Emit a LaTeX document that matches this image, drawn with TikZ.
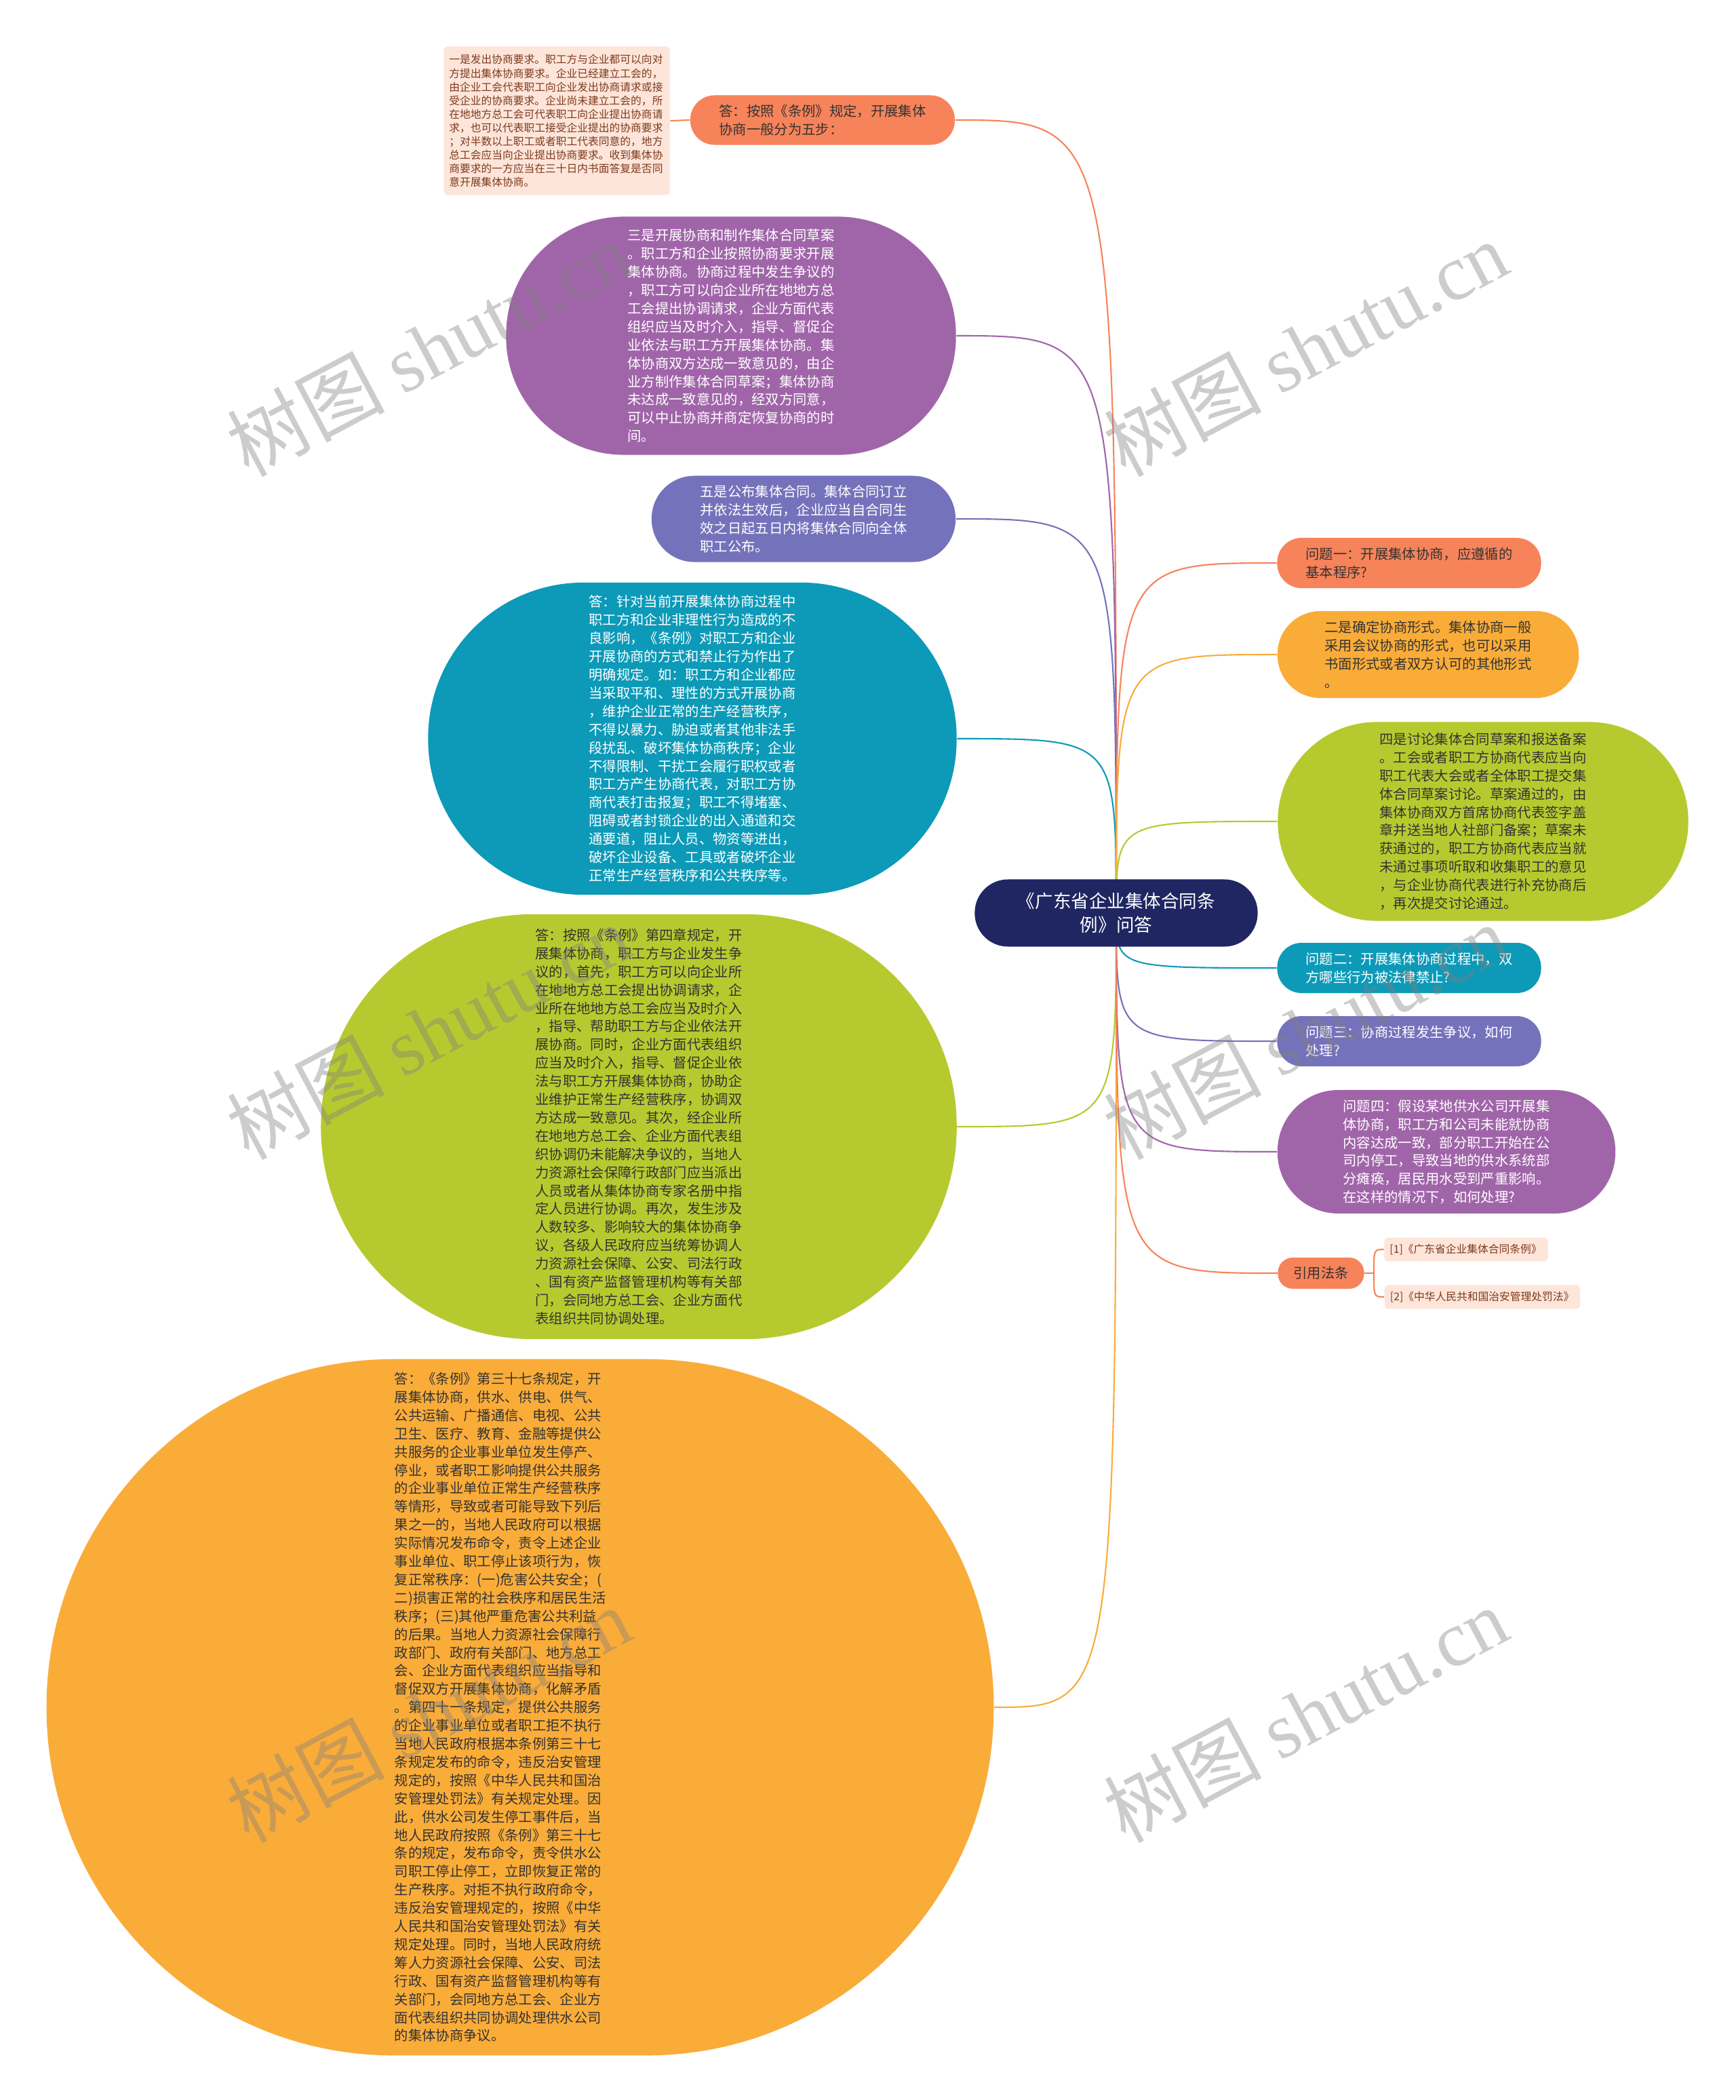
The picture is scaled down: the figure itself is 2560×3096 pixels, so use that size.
\documentclass[tikz,border=0pt]{standalone}
\usepackage{fontspec}
\setmainfont{Noto Sans CJK SC}
\newfontfamily\wmlatin{Liberation Serif}
\usetikzlibrary{backgrounds}

\definecolor{rootblue}{RGB}{31,38,98}
\definecolor{coral}{RGB}{247,131,90}
\definecolor{amber}{RGB}{250,172,57}
\definecolor{plum}{RGB}{160,101,169}
\definecolor{lavender}{RGB}{117,114,188}
\definecolor{seablue}{RGB}{12,154,184}
\definecolor{leaf}{RGB}{182,202,47}
\definecolor{notefill}{RGB}{253,229,218}
\definecolor{notetext}{RGB}{125,58,28}
\definecolor{darktext}{RGB}{51,51,51}

\newcommand{\bodyfont}{\fontsize{5.78pt}{7.65pt}\selectfont}
\newcommand{\notefont}{\fontsize{4.48pt}{5.69pt}\selectfont}
\newcommand{\rootfont}{\fontsize{7.55pt}{9.95pt}\selectfont}

\begin{document}
\begin{tikzpicture}[x=0.01cm, y=-0.01cm,
    bubble/.style={inner sep=0pt, align=left, font=\bodyfont},
    link/.style={line width=0.6pt},
    tag/.style={inner xsep=0.08cm, inner ysep=0pt, minimum height=0.35cm, rounded corners=0.06cm, fill=notefill, text=notetext, font=\notefont, align=left},
    wmark/.style={rotate=28, text=gray, opacity=0.4, font=\fontsize{33pt}{33pt}\selectfont}]
        \useasboundingbox (0,0) rectangle (2560,3096);

        % --- Root ---
        \node[bubble, fill=rootblue, text=white, font=\rootfont, align=center, minimum width=4.17cm, minimum height=0.99cm, rounded corners=0.49cm] (root) at (1646,1346) {《广东省企业集体合同条\\例》问答};
        % ---

        % --- Left side: answers and steps ---
        \node[tag, text width=3.17cm, minimum height=2.19cm] (note) at (821,178) {一是发出协商要求。职工方与企业都可以向对\\方提出集体协商要求。企业已经建立工会的，\\由企业工会代表职工向企业发出协商请求或接\\受企业的协商要求。企业尚未建立工会的，所\\在地地方总工会可代表职工向企业提出协商请\\求，也可以代表职工接受企业提出的协商要求\\；对半数以上职工或者职工代表同意的，地方\\总工会应当向企业提出协商要求。收到集体协\\商要求的一方应当在三十日内书面答复是否同\\意开展集体协商。};
        \node[bubble, fill=coral, text=darktext, minimum width=3.9cm, minimum height=0.73cm, rounded corners=0.36cm] (ans) at (1213,177) {答：按照《条例》规定，开展集体\\协商一般分为五步：};
        \node[bubble, fill=plum, text=white, minimum width=6.63cm, minimum height=3.51cm, rounded corners=1.74cm] (step3) at (1078,495) {三是开展协商和制作集体合同草案\\。职工方和企业按照协商要求开展\\集体协商。协商过程中发生争议的\\，职工方可以向企业所在地地方总\\工会提出协调请求，企业方面代表\\组织应当及时介入，指导、督促企\\业依法与职工方开展集体协商。集\\体协商双方达成一致意见的，由企\\业方制作集体合同草案；集体协商\\未达成一致意见的，经双方同意，\\可以中止协商并商定恢复协商的时\\间。};
        \node[bubble, fill=lavender, text=white, minimum width=4.48cm, minimum height=1.27cm, rounded corners=0.63cm] (step5) at (1185,765) {五是公布集体合同。集体合同订立\\并依法生效后，企业应当自合同生\\效之日起五日内将集体合同向全体\\职工公布。};
        \node[bubble, fill=seablue, text=white, minimum width=7.79cm, minimum height=4.6cm, rounded corners=2.29cm] (ans2) at (1021,1089) {答：针对当前开展集体协商过程中\\职工方和企业非理性行为造成的不\\良影响，《条例》对职工方和企业\\开展协商的方式和禁止行为作出了\\明确规定。如：职工方和企业都应\\当采取平和、理性的方式开展协商\\，维护企业正常的生产经营秩序，\\不得以暴力、胁迫或者其他非法手\\段扰乱、破坏集体协商秩序；企业\\不得限制、干扰工会履行职权或者\\职工方产生协商代表，对职工方协\\商代表打击报复；职工不得堵塞、\\阻碍或者封锁企业的出入通道和交\\通要道，阻止人员、物资等进出，\\破坏企业设备、工具或者破坏企业\\正常生产经营秩序和公共秩序等。};
        \node[bubble, fill=leaf, text=darktext, minimum width=9.37cm, minimum height=6.26cm, rounded corners=3.12cm] (ans3) at (942,1661) {答：按照《条例》第四章规定，开\\展集体协商，职工方与企业发生争\\议的，首先，职工方可以向企业所\\在地地方总工会提出协调请求，企\\业所在地地方总工会应当及时介入\\，指导、帮助职工方与企业依法开\\展协商。同时，企业方面代表组织\\应当及时介入，指导、督促企业依\\法与职工方开展集体协商，协助企\\业维护正常生产经营秩序，协调双\\方达成一致意见。其次，经企业所\\在地地方总工会、企业方面代表组\\织协调仍未能解决争议的，当地人\\力资源社会保障行政部门应当派出\\人员或者从集体协商专家名册中指\\定人员进行协调。再次，发生涉及\\人数较多、影响较大的集体协商争\\议，各级人民政府应当统筹协调人\\力资源社会保障、公安、司法行政\\、国有资产监督管理机构等有关部\\门，会同地方总工会、企业方面代\\表组织共同协调处理。};
        \node[bubble, fill=amber, text=darktext, text width=3.7cm, minimum width=13.96cm, minimum height=10.26cm, rounded corners=5.12cm] (ans4) at (767,2517) {答：《条例》第三十七条规定，开\\展集体协商，供水、供电、供气、\\公共运输、广播通信、电视、公共\\卫生、医疗、教育、金融等提供公\\共服务的企业事业单位发生停产、\\停业，或者职工影响提供公共服务\\的企业事业单位正常生产经营秩序\\等情形，导致或者可能导致下列后\\果之一的，当地人民政府可以根据\\实际情况发布命令，责令上述企业\\事业单位、职工停止该项行为，恢\\复正常秩序：(一)危害公共安全；(\\二)损害正常的社会秩序和居民生活\\秩序；(三)其他严重危害公共利益\\的后果。当地人力资源社会保障行\\政部门、政府有关部门、地方总工\\会、企业方面代表组织应当指导和\\督促双方开展集体协商，化解矛盾\\。第四十一条规定，提供公共服务\\的企业事业单位或者职工拒不执行\\当地人民政府根据本条例第三十七\\条规定发布的命令，违反治安管理\\规定的，按照《中华人民共和国治\\安管理处罚法》有关规定处理。因\\此，供水公司发生停工事件后，当\\地人民政府按照《条例》第三十七\\条的规定，发布命令，责令供水公\\司职工停止停工，立即恢复正常的\\生产秩序。对拒不执行政府命令，\\违反治安管理规定的，按照《中华\\人民共和国治安管理处罚法》有关\\规定处理。同时，当地人民政府统\\筹人力资源社会保障、公安、司法\\行政、国有资产监督管理机构等有\\关部门，会同地方总工会、企业方\\面代表组织共同协调处理供水公司\\的集体协商争议。};
        % ---

        % --- Right side: questions and steps ---
        \node[bubble, fill=coral, text=darktext, minimum width=3.89cm, minimum height=0.74cm, rounded corners=0.36cm] (q1) at (2078,830) {问题一：开展集体协商，应遵循的\\基本程序?};
        \node[bubble, fill=amber, text=darktext, minimum width=4.44cm, minimum height=1.28cm, rounded corners=0.63cm] (step2) at (2106,965) {二是确定协商形式。集体协商一般\\采用会议协商的形式，也可以采用\\书面形式或者双方认可的其他形式\\。};
        \node[bubble, fill=leaf, text=darktext, minimum width=6.05cm, minimum height=2.93cm, rounded corners=1.46cm] (step4) at (2187,1211) {四是讨论集体合同草案和报送备案\\。工会或者职工方协商代表应当向\\职工代表大会或者全体职工提交集\\体合同草案讨论。草案通过的，由\\集体协商双方首席协商代表签字盖\\章并送当地人社部门备案；草案未\\获通过的，职工方协商代表应当就\\未通过事项听取和收集职工的意见\\，与企业协商代表进行补充协商后\\，再次提交讨论通过。};
        \node[bubble, fill=seablue, text=white, minimum width=3.89cm, minimum height=0.74cm, rounded corners=0.36cm] (q2) at (2078,1427) {问题二：开展集体协商过程中，双\\方哪些行为被法律禁止?};
        \node[bubble, fill=lavender, text=white, minimum width=3.89cm, minimum height=0.74cm, rounded corners=0.36cm] (q3) at (2078,1535) {问题三：协商过程发生争议，如何\\处理?};
        \node[bubble, fill=plum, text=white, minimum width=4.98cm, minimum height=1.82cm, rounded corners=0.9cm] (q4) at (2133,1698) {问题四：假设某地供水公司开展集\\体协商，职工方和公司未能就协商\\内容达成一致，部分职工开始在公\\司内停工，导致当地的供水系统部\\分瘫痪，居民用水受到严重影响。\\在这样的情况下，如何处理?};
        \node[bubble, fill=coral, text=darktext, align=center, minimum width=1.27cm, minimum height=0.46cm, rounded corners=0.22cm] (cite) at (1948,1877) {引用法条};
        \node[tag, text width=2.25cm] (ref1) at (2162,1842) {[1]《广东省企业集体合同条例》};
        \node[tag, text width=2.72cm] (ref2) at (2186,1912) {[2]《中华人民共和国治安管理处罚法》};
        \coordinate (fork) at (2026,1877);
        % ---

        % --- Connectors behind the bubbles ---
        \begin{scope}[on background layer]
        \fill[white] (0,0) rectangle (2560,3096);
        \draw[link, coral] (root.center) .. controls (root.center |- ans.east) .. (ans.east);
        \draw[link, plum] (root.center) .. controls (root.center |- step3.east) .. (step3.east);
        \draw[link, lavender] (root.center) .. controls (root.center |- step5.east) .. (step5.east);
        \draw[link, seablue] (root.center) .. controls (root.center |- ans2.east) .. (ans2.east);
        \draw[link, leaf] (root.center) .. controls (root.center |- ans3.east) .. (ans3.east);
        \draw[link, amber] (root.center) .. controls (root.center |- ans4.east) .. (ans4.east);
        \draw[link, coral] (root.center) .. controls (root.center |- q1.west) .. (q1.west);
        \draw[link, amber] (root.center) .. controls (root.center |- step2.west) .. (step2.west);
        \draw[link, leaf] (root.center) .. controls (root.center |- step4.west) .. (step4.west);
        \draw[link, seablue] (root.center) .. controls (root.center |- q2.west) .. (q2.west);
        \draw[link, lavender] (root.center) .. controls (root.center |- q3.west) .. (q3.west);
        \draw[link, plum] (root.center) .. controls (root.center |- q4.west) .. (q4.west);
        \draw[link, coral] (root.center) .. controls (root.center |- cite.west) .. (cite.west);
        \draw[link, coral] (ans.west) -- (note.east);
        \draw[link, coral] (cite.east) -- (fork);
        \draw[link, coral] (fork) .. controls (fork |- ref1.west) .. (ref1.west);
        \draw[link, coral] (fork) .. controls (fork |- ref2.west) .. (ref2.west);
        \end{scope}
        % ---

        % --- Watermarks ---
        \node[wmark] (wm1) at (632,513) {树图 {\wmlatin shutu.cn}};
        \node[wmark] (wm2) at (1925,513) {树图 {\wmlatin shutu.cn}};
        \node[wmark] (wm3) at (632,1520) {树图 {\wmlatin shutu.cn}};
        \node[wmark] (wm4) at (1925,1520) {树图 {\wmlatin shutu.cn}};
        \node[wmark] (wm5) at (632,2527) {树图 {\wmlatin shutu.cn}};
        \node[wmark] (wm6) at (1925,2527) {树图 {\wmlatin shutu.cn}};
        % ---
    \end{tikzpicture}
\end{document}
